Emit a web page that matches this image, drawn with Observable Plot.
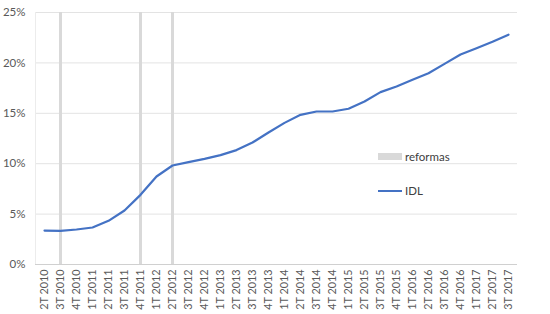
<!DOCTYPE html>
<html>
<head>
<meta charset="utf-8">
<script src="https://cdn.jsdelivr.net/npm/d3@7"></script>
<script src="https://cdn.jsdelivr.net/npm/@observablehq/plot@0.6"></script>
<style>
  html, body { margin: 0; padding: 0; background: #fff; }
  #wrap { position: relative; width: 550px; height: 314px; font-family: Lato, "Open Sans", sans-serif; }
  .leg { position: absolute; display: flex; align-items: center; font-size: 11.5px; color: #404040; }
  .sw-bar { width: 24px; height: 7px; background: #d9d9d9; margin-right: 3px; }
  .sw-line { width: 24px; height: 2px; background: #4472c4; margin-right: 3px; }
</style>
</head>
<body>
<div id="wrap"></div>
<script>
const quarters = [
  "2T 2010","3T 2010","4T 2010",
  "1T 2011","2T 2011","3T 2011","4T 2011",
  "1T 2012","2T 2012","3T 2012","4T 2012",
  "1T 2013","2T 2013","3T 2013","4T 2013",
  "1T 2014","2T 2014","3T 2014","4T 2014",
  "1T 2015","2T 2015","3T 2015","4T 2015",
  "1T 2016","2T 2016","3T 2016","4T 2016",
  "1T 2017","2T 2017","3T 2017"
];
const idl = [
  3.37, 3.34, 3.47,
  3.67, 4.33, 5.36, 6.91,
  8.73, 9.82, 10.15, 10.48,
  10.85, 11.35, 12.1, 13.1,
  14.05, 14.85, 15.18, 15.18,
  15.45, 16.17, 17.1, 17.66,
  18.32, 18.98, 19.9, 20.83,
  21.46, 22.1, 22.8
];
const reformas = ["3T 2010", "4T 2011", "2T 2012"];
const yTicks = [0, 5, 10, 15, 20, 25];
const legendLabels = ["reformas", "IDL"];

const data = quarters.map((q, i) => ({q, v: idl[i]}));

const chart = Plot.plot({
  width: 550,
  height: 314,
  marginLeft: 35,
  marginRight: 33,
  marginTop: 12,
  marginBottom: 50,
  style: {fontFamily: "Lato, 'Open Sans', sans-serif", fontSize: "11px", color: "#595959", background: "#fff"},
  x: {type: "point", domain: quarters, padding: 0.5},
  y: {domain: [0, 25]},
  marks: [
    Plot.gridY(yTicks, {stroke: "#e3e3e3", strokeOpacity: 1}),
    Plot.frame({anchor: "left", stroke: "#ececec"}),
    Plot.ruleX(reformas, {stroke: "#d9d9d9", strokeWidth: 3}),
    Plot.ruleY([0], {stroke: "#d0d0d0"}),
    Plot.line(data, {x: "q", y: "v", stroke: "#4472c4", strokeWidth: 2.2, strokeLinejoin: "round"}),
    Plot.axisX({tickRotate: -90, tickSize: 0, tickPadding: 5, fontSize: 10.8, label: null}),
    Plot.axisY(yTicks, {tickSize: 0, tickPadding: 10, tickFormat: d => d + "%", label: null, fontSize: 11.5})
  ]
});

const wrap = document.getElementById("wrap");
wrap.appendChild(chart);

const l1 = document.createElement("div");
l1.className = "leg";
l1.style.left = "378px"; l1.style.top = "150px";
l1.innerHTML = '<div class="sw-bar"></div><span>' + legendLabels[0] + '</span>';
wrap.appendChild(l1);

const l2 = document.createElement("div");
l2.className = "leg";
l2.style.left = "378px"; l2.style.top = "184px";
l2.innerHTML = '<div class="sw-line"></div><span>' + legendLabels[1] + '</span>';
wrap.appendChild(l2);
</script>
</body>
</html>
